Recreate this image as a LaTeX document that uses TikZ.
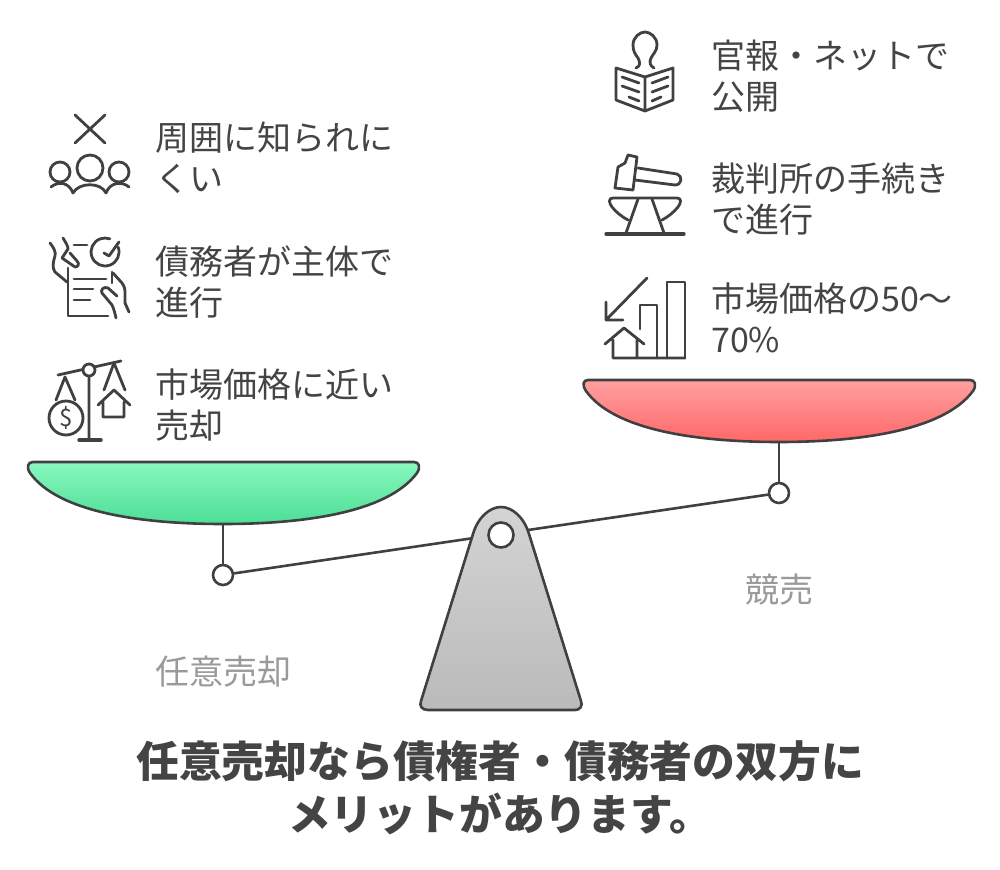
\documentclass[tikz,border=0pt]{standalone}
\usepackage{fontspec}
\setmainfont{Noto Sans CJK JP}
\definecolor{inkgray}{HTML}{404040}
\definecolor{labelgray}{HTML}{9A9A9A}
\definecolor{textgray}{HTML}{444444}
\definecolor{greentop}{HTML}{88F8BE}
\definecolor{greenlow}{HTML}{4CDE96}
\definecolor{redtop}{HTML}{FFA0A0}
\definecolor{redlow}{HTML}{FF6868}
\tikzset{
  itemtext/.style={anchor=west,align=left,text=textgray,font=\fontsize{34}{41}\selectfont,inner sep=0pt},
  sidetext/.style={text=labelgray,font=\fontsize{34}{38}\selectfont,inner sep=0pt},
  titletext/.style={align=center,text=textgray,font=\fontsize{42.8}{53}\selectfont\bfseries,inner sep=0pt},
  icon/.style={draw=inkgray,line width=2.8pt,line cap=round,line join=round},
  beam/.style={draw=inkgray,line width=2.6pt},
  pan/.style={draw=inkgray,line width=2.6pt},
  pivot/.style={circle,draw=inkgray,line width=2.6pt,fill=white,minimum size=20pt,inner sep=0pt}
}
\begin{document}
\begin{tikzpicture}[x=1pt,y=-1pt]
\useasboundingbox (0,0) rectangle (1000,869);
% beam and hangers
\node[pivot] (leftpin) at (223,575) {};
\node[pivot] (rightpin) at (779,493) {};
\coordinate (leftpan) at (223,524);
\coordinate (rightpan) at (779,442);
\draw[beam] (leftpin) -- (rightpin);
\draw[beam] (leftpan) -- (leftpin);
\draw[beam] (rightpan) -- (rightpin);
% pans
\draw[pan,top color=greentop,bottom color=greenlow] (33,462) -- (414,462)
  .. controls (419,462) and (421,467) .. (417,473) .. controls (388,512) and (306,524) .. (223,524)
  .. controls (140,524) and (58,512) .. (30,473) .. controls (26,467) and (28,462) .. (33,462) -- cycle;
\draw[pan,top color=redtop,bottom color=redlow] (588,380) -- (970,380)
  .. controls (975,380) and (977,385) .. (973,391) .. controls (944,430) and (862,442) .. (779,442)
  .. controls (696,442) and (614,430) .. (586,391) .. controls (582,385) and (583,380) .. (588,380) -- cycle;
% stand
\draw[draw=inkgray,line width=2.6pt,top color=black!17,bottom color=black!27]
  (428,710) .. controls (422,710) and (419,706) .. (421,701) -- (473,534)
  .. controls (478,517) and (490,507) .. (501,507) .. controls (512,507) and (524,517) .. (529,534)
  -- (581,701) .. controls (583,706) and (580,710) .. (575,710) -- cycle;
\node[pivot,minimum size=25pt] (hub) at (501,535) {};
% left column icons
\draw[icon] (75,115) -- (105,143) (105,115) -- (75,143);
\draw[icon] (90,168) circle (13) (60,172) circle (10) (119,172) circle (10);
\draw[icon] (51,187) .. controls (58,181) and (69,182) .. (73,193) .. controls (79,182) and (101,182) .. (106,193) .. controls (110,182) and (122,181) .. (129,187);
\draw[icon] (68,268) -- (68,316) -- (108,316) (74,245) -- (87,245) (112,272) -- (112,283)
  (74,279) -- (106,279) (74,289) -- (93,289) (74,300) -- (90,300);
\draw[icon] (118.2,247.2) arc (-20:290:14);
\draw[icon] (104,253) -- (109,256) -- (119,242);
\draw[icon] (50,243) .. controls (54,248) and (56,252) .. (55,256) .. controls (53,262) and (52,268) .. (55,272) -- (67,282)
  (63,238) .. controls (66,243) and (68,246) .. (68,249) -- (62,258) -- (75,267) .. controls (78,267) and (80,264) .. (77,261) -- (70,253);
\draw[icon] (113,273) -- (122,283) .. controls (125,287) and (125,290) .. (125,294) -- (125,303) -- (129,312)
  (117,296) -- (108,288) .. controls (104,286) and (100,290) .. (102,293) -- (112,305) .. controls (114,309) and (115,314) .. (116,318);
\draw[icon,line width=3.4pt] (79,440) -- (101,440);
\draw[icon] (58,375) -- (121,361) (89,370) -- (89,440);
\draw[icon,fill=white] (89,370) circle (6);
\draw[icon] (65,377) -- (56,400) (65,377) -- (75,400);
\draw[icon] (114,363) -- (104,390) (114,363) -- (125,390);
\draw[icon] (66,418) circle (17);
\node[inner sep=0pt,text=inkgray,font=\fontsize{24}{24}\selectfont] (dollar) at (66,418) {\$};
\draw[icon] (98,405) -- (114,390) -- (130,405) (103,402) -- (103,417) -- (124,417) -- (124,402);
% right column icons
\draw[icon] (636,68) .. controls (641,66) and (640,62) .. (638,58) .. controls (635,54) and (633,51) .. (633,45)
  .. controls (633,37) and (640,32) .. (645,32) .. controls (650,32) and (657,37) .. (657,45)
  .. controls (657,51) and (653,54) .. (651,58) .. controls (649,62) and (650,66) .. (654,68);
\draw[icon] (645,111) -- (616,100) -- (616,68) -- (645,77) -- (673,68) -- (673,100) -- cycle (645,77) -- (645,111);
\foreach \yy/\xa/\ya in {83/622/77,92/622/86,101/629/97} {
  \draw[icon] (\xa,\ya) -- (639,\yy);
}
\foreach \yy/\xa/\ya in {83/668/77,92/668/86,101/661/97} {
  \draw[icon] (652,\yy) -- (\xa,\ya);
}
\draw[icon] (615,188) -- (618,167) -- (625,163) -- (628,155) -- (637,157) -- (633,190) -- cycle;
\draw[icon] (638,168) -- (677,174) .. controls (683,176) and (682,185) .. (675,185) -- (635,180);
\draw[icon] (613,198) -- (677,198) .. controls (682,198) and (681,203) .. (678,207) .. controls (674,212) and (668,217) .. (662,220)
  (613,198) .. controls (608,198) and (609,203) .. (612,207) .. controls (616,212) and (622,217) .. (628,220);
\draw[icon] (638,199) -- (626,233) (652,199) -- (664,233);
\draw[icon,line width=3.2pt] (606,234) -- (684,234);
\draw[icon] (647,278) -- (606,320) (606,302) -- (606,320) -- (623,320);
\draw[icon] (605,344) -- (624,328) -- (644,344) (613,340) -- (613,358) -- (685,358) (637,340) -- (637,358);
\draw[icon] (640,329) -- (640,305) -- (657,305) -- (657,358);
\draw[icon] (667,358) -- (667,282) -- (685,282) -- (685,358);
% labels
\node[itemtext] (lefta) at (155,158) {周囲に知られに\\くい};
\node[itemtext] (leftb) at (155,282) {債務者が主体で\\進行};
\node[itemtext] (leftc) at (155,405) {市場価格に近い\\売却};
\node[itemtext] (righta) at (711,76) {官報・ネットで\\公開};
\node[itemtext] (rightb) at (711,199) {裁判所の手続き\\で進行};
\node[itemtext] (rightc) at (711,318) {市場価格の50〜\\70\%};
\node[sidetext] (sellname) at (223,672) {任意売却};
\node[sidetext] (courtname) at (779,590) {競売};
\node[titletext] (headline) at (500,787.5) {任意売却なら債権者・債務者の双方に\\メリットがあります。};
\end{tikzpicture}
\end{document}
